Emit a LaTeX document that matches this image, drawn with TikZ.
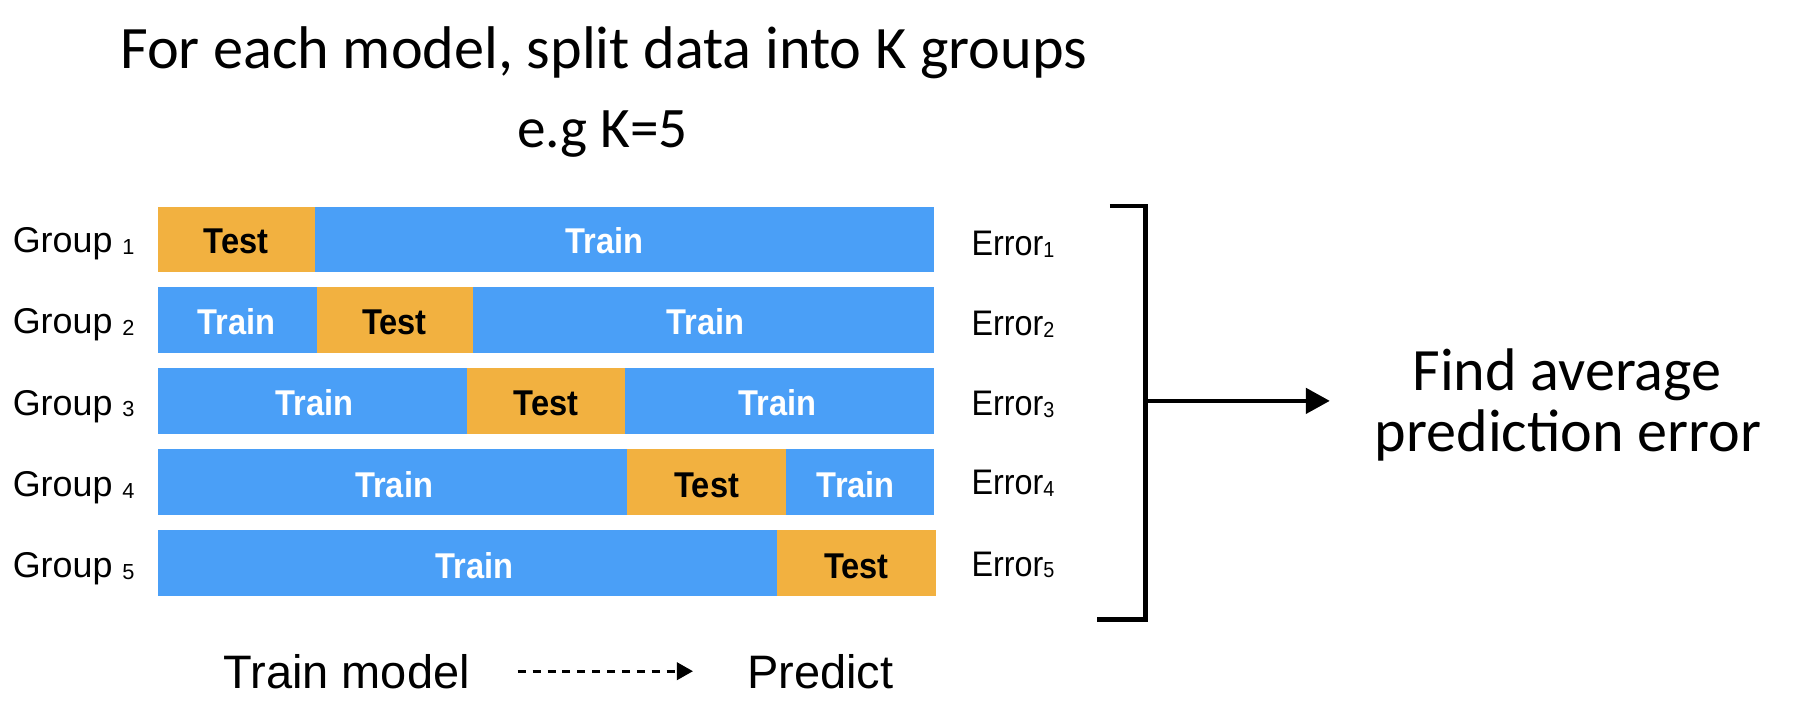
\documentclass[tikz,border=0pt]{standalone}
\usepackage{fontspec}
\setmainfont{Carlito}
\newfontfamily\arialf{Liberation Sans}
\newfontfamily\condf{Liberation Sans}[FakeStretch=0.91]
\usetikzlibrary{arrows.meta}
\definecolor{trainblue}{HTML}{4A9FF7}
\definecolor{testorange}{HTML}{F2B140}
\tikzset{
  trainseg/.style={fill=trainblue},
  testseg/.style={fill=testorange},
  segtxt/.style={font=\condf\bfseries\fontsize{31.3}{31.3}\selectfont, inner sep=0, anchor=base},
  traintxt/.style={segtxt, text=white},
  testtxt/.style={segtxt, text=black},
  grouplbl/.style={font=\arialf\fontsize{31.3}{31.3}\selectfont, inner sep=0, anchor=base west},
  errlbl/.style={font=\condf\fontsize{31}{31}\selectfont, inner sep=0, anchor=base west},
  bigtxt/.style={font=\fontsize{52.6}{52.6}\selectfont, inner sep=0, anchor=base},
  legtxt/.style={font=\arialf\fontsize{41}{41}\selectfont, inner sep=0, anchor=base west},
  bracketline/.style={line width=3.8pt, line cap=butt, line join=miter},
}
\newcommand{\gsub}[1]{\raisebox{-1.5pt}{\fontsize{19}{19}\selectfont #1}}
\newcommand{\esub}[1]{\raisebox{-1.5pt}{\fontsize{19}{19}\selectfont #1}}
\begin{document}
\begin{tikzpicture}[x=1pt,y=-1pt]
\useasboundingbox (0,0) rectangle (1568,620);

% titles
\node[bigtxt] (title) at (527,60) {For each model, split data into K groups};
\node[bigtxt, font=\fontsize{50}{50}\selectfont] (eg) at (526,129) {e.g K=5};

% row 1
\fill[testseg]  (138.2,180.3) rectangle (274.8,237.1);
\fill[trainseg] (274.8,180.3) rectangle (815.2,237.1);
\node[testtxt]  (t1a) at (206.2,221) {Test};
\node[traintxt] (t1b) at (527.6,221) {Train};
% row 2
\fill[trainseg] (138.2,251) rectangle (276.4,307.8);
\fill[testseg]  (276.4,251) rectangle (413,307.8);
\fill[trainseg] (413,251) rectangle (815.2,307.8);
\node[traintxt] (t2a) at (206.2,292) {Train};
\node[testtxt]  (t2b) at (344.4,292) {Test};
\node[traintxt] (t2c) at (616,292) {Train};
% row 3
\fill[trainseg] (138.2,321.7) rectangle (407.6,378.5);
\fill[testseg]  (407.6,321.7) rectangle (545.8,378.5);
\fill[trainseg] (545.8,321.7) rectangle (815.2,378.5);
\node[traintxt] (t3a) at (274.3,363) {Train};
\node[testtxt]  (t3b) at (476.7,363) {Test};
\node[traintxt] (t3c) at (678.6,363) {Train};
% row 4
\fill[trainseg] (138.2,392.4) rectangle (547.4,449.2);
\fill[testseg]  (547.4,392.4) rectangle (686.1,449.2);
\fill[trainseg] (686.1,392.4) rectangle (815.2,449.2);
\node[traintxt] (t4a) at (344,434) {Train};
\node[testtxt]  (t4b) at (617,434) {Test};
\node[traintxt] (t4c) at (747.2,434) {Train};
% row 5
\fill[trainseg] (138.2,463.1) rectangle (678.6,519.9);
\fill[testseg]  (678.6,463.1) rectangle (817.4,519.9);
\node[traintxt] (t5a) at (414,505) {Train};
\node[testtxt]  (t5b) at (747.7,505) {Test};

% group labels
\node[grouplbl] (g1) at (11,220.5) {Group \gsub{1}};
\node[grouplbl] (g2) at (11,291.5) {Group \gsub{2}};
\node[grouplbl] (g3) at (11,362.5) {Group \gsub{3}};
\node[grouplbl] (g4) at (11,433.5) {Group \gsub{4}};
\node[grouplbl] (g5) at (11,504.5) {Group \gsub{5}};

% error labels
\node[errlbl] (e1) at (848,223) {Error\esub{1}};
\node[errlbl] (e2) at (848,293) {Error\esub{2}};
\node[errlbl] (e3) at (848,363) {Error\esub{3}};
\node[errlbl] (e4) at (848,432) {Error\esub{4}};
\node[errlbl] (e5) at (848,503) {Error\esub{5}};

% bracket and arrow
\coordinate (btl) at (969,180);
\coordinate (btr) at (1000,180);
\coordinate (bbr) at (1000,541);
\coordinate (bbl) at (958,541);
\coordinate (bmid) at (1000,350);
\coordinate (atip) at (1161,350);
\draw[bracketline] (btl) -- (btr) -- (bbr) -- (bbl);
\draw[bracketline, -{Triangle[length=21pt,width=22pt]}] (bmid) -- (atip);

\node[bigtxt, font=\fontsize{52.5}{52.5}\selectfont] (find1) at (1368,341) {Find average};
\node[bigtxt, font=\fontsize{52.5}{52.5}\selectfont] (find2) at (1369,394.5) {prediction error};

% legend
\node[legtxt] (trainmodel) at (195,601) {Train model};
\node[legtxt] (predict) at (652,601) {Predict};
\coordinate (dstart) at (452,586);
\coordinate (dend) at (605,586);
\draw[line width=2.8pt, dash pattern=on 7pt off 6pt, -{Triangle[length=14pt,width=15pt]}] (dstart) -- (dend);
\end{tikzpicture}
\end{document}
